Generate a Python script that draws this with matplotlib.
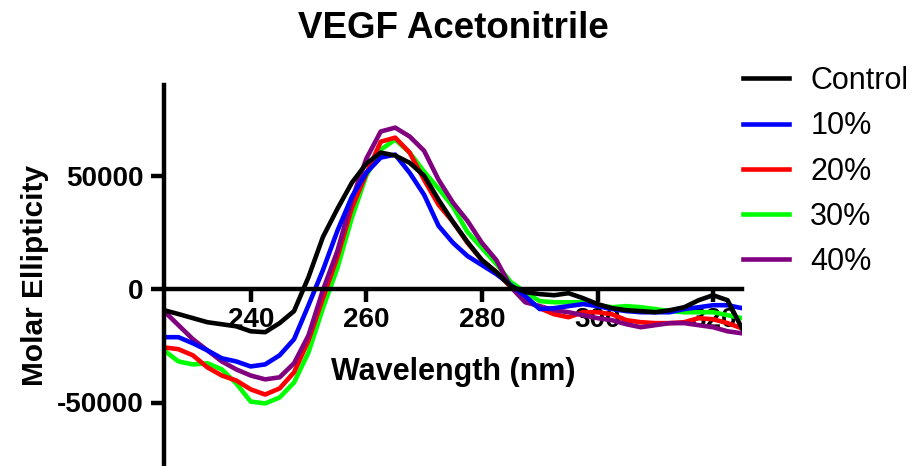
import matplotlib
matplotlib.use('Agg')
import matplotlib.pyplot as plt

plt.rcParams['font.family'] = ['Liberation Sans', 'DejaVu Sans']
plt.rcParams['axes.unicode_minus'] = False

# wavelength grid (nm) shared by all series
wavelength = [225, 227.5, 230, 232.5, 235, 237.5, 240, 242.5, 245, 247.5,
              250, 252.5, 255, 257.5, 260, 262.5, 265, 267.5, 270, 272.5,
              275, 277.5, 280, 282.5, 285, 287.5, 290, 292.5, 295, 297.5,
              300, 302.5, 305, 307.5, 310, 312.5, 315, 317.5, 320, 322.5, 325]

control = [-9300, -11000, -12800, -14600, -15500, -16400, -18600, -19000, -15000, -9700,
           5300, 23000, 35400, 46900, 55300, 60200, 58900, 55700, 50000, 39400,
           29600, 20800, 12800, 7500, 1300, -1300, -2200, -2700, -1800, -4000,
           -6600, -8400, -9300, -9700, -10200, -9300, -8000, -4900, -2700, -4900, -17300]

acn10 = [-21200, -21200, -23900, -27000, -30500, -31900, -34100, -33200, -29200, -22100,
         -7100, 8400, 25700, 40700, 51300, 58000, 59300, 51300, 41600, 27900,
         20400, 14600, 10600, 6600, 1800, -3100, -8800, -8400, -7500, -6600,
         -7500, -8800, -9700, -10200, -10200, -10200, -8800, -8000, -7100, -7100, -8400]

acn20 = [-25700, -26500, -29200, -34500, -38100, -40300, -44200, -46500, -43800, -36700,
         -22600, -4000, 14200, 35800, 50900, 65000, 66800, 60200, 48200, 37200,
         29600, 20400, 12800, 7500, 900, -4000, -8400, -11100, -12400, -10200,
         -10200, -11100, -13700, -14600, -15000, -15000, -14600, -12800, -13300, -15000, -17300]

acn30 = [-27000, -31900, -33200, -32700, -35400, -41600, -49600, -50400, -47800, -41200,
         -27900, -8400, 9300, 31400, 50000, 61500, 65900, 60200, 51800, 44300,
         36300, 25200, 18100, 11100, 3100, -1300, -5300, -5800, -5800, -5800,
         -7100, -8000, -7500, -8000, -8800, -9700, -10200, -10200, -10200, -11500, -12800]

acn40 = [-9700, -15900, -22100, -27000, -31900, -35400, -38100, -39800, -38900, -32700,
         -20400, -400, 16800, 39400, 57500, 69500, 71200, 67300, 61000, 48200,
         38100, 30100, 20400, 12800, 900, -5800, -7500, -9300, -10200, -11500,
         -12800, -13700, -15500, -16800, -15900, -15000, -15000, -15900, -16800, -18600, -19500]

labels = ['Control', '10%', '20%', '30%', '40%']
colors = ['black', '#0000ff', '#ff0000', '#00ff00', '#800080']
series = [control, acn10, acn20, acn30, acn40]

fig = plt.figure(figsize=(9.18, 4.66), dpi=100)
ax = fig.add_axes([164 / 918, 0.0, 578 / 918, 381 / 466])

# draw order: green, red, purple, blue, black on top
handles = [None] * 5
for i in [3, 2, 4, 1, 0]:
    line, = ax.plot(wavelength, series[i], color=colors[i], lw=3.3,
                    label=labels[i], solid_joinstyle='round')
    handles[i] = line

ax.set_xlim(225, 325)
ax.set_ylim(-78000, 90000)

ax.spines['top'].set_visible(False)
ax.spines['right'].set_visible(False)
ax.spines['bottom'].set_position(('data', 0))
ax.spines['left'].set_linewidth(3.2)
ax.spines['bottom'].set_linewidth(3.2)

ax.set_xticks([240, 260, 280, 300, 320])
ax.set_yticks([-50000, 0, 50000])
ax.tick_params(axis='both', direction='out', length=9.5, width=3.2, labelsize=20)
ax.tick_params(axis='x', pad=3.5)
ax.tick_params(axis='y', pad=5)
for lab in ax.get_xticklabels() + ax.get_yticklabels():
    lab.set_fontweight('bold')

ax.set_xlabel('Wavelength (nm)', fontsize=22, fontweight='bold', va='center')
ax.xaxis.set_label_coords(0.5, (466 - 372) / 381)
ax.set_ylabel('Molar Ellipticity', fontsize=21.5, fontweight='bold', va='center')
ax.yaxis.set_label_coords((35 - 164) / 578, 0.5)

ax.set_title('VEGF Acetonitrile', fontsize=26.5, fontweight='bold',
             y=(466 - 46.5) / 381, va='baseline')

fig.legend(handles=handles, labels=labels, loc='upper left',
           bbox_to_anchor=(743 / 918, 1 - 66 / 466), frameon=False,
           fontsize=22, handlelength=1.5, handletextpad=0.7,
           labelspacing=0.5, borderpad=0, borderaxespad=0)

fig.savefig('out.png', dpi=100)
